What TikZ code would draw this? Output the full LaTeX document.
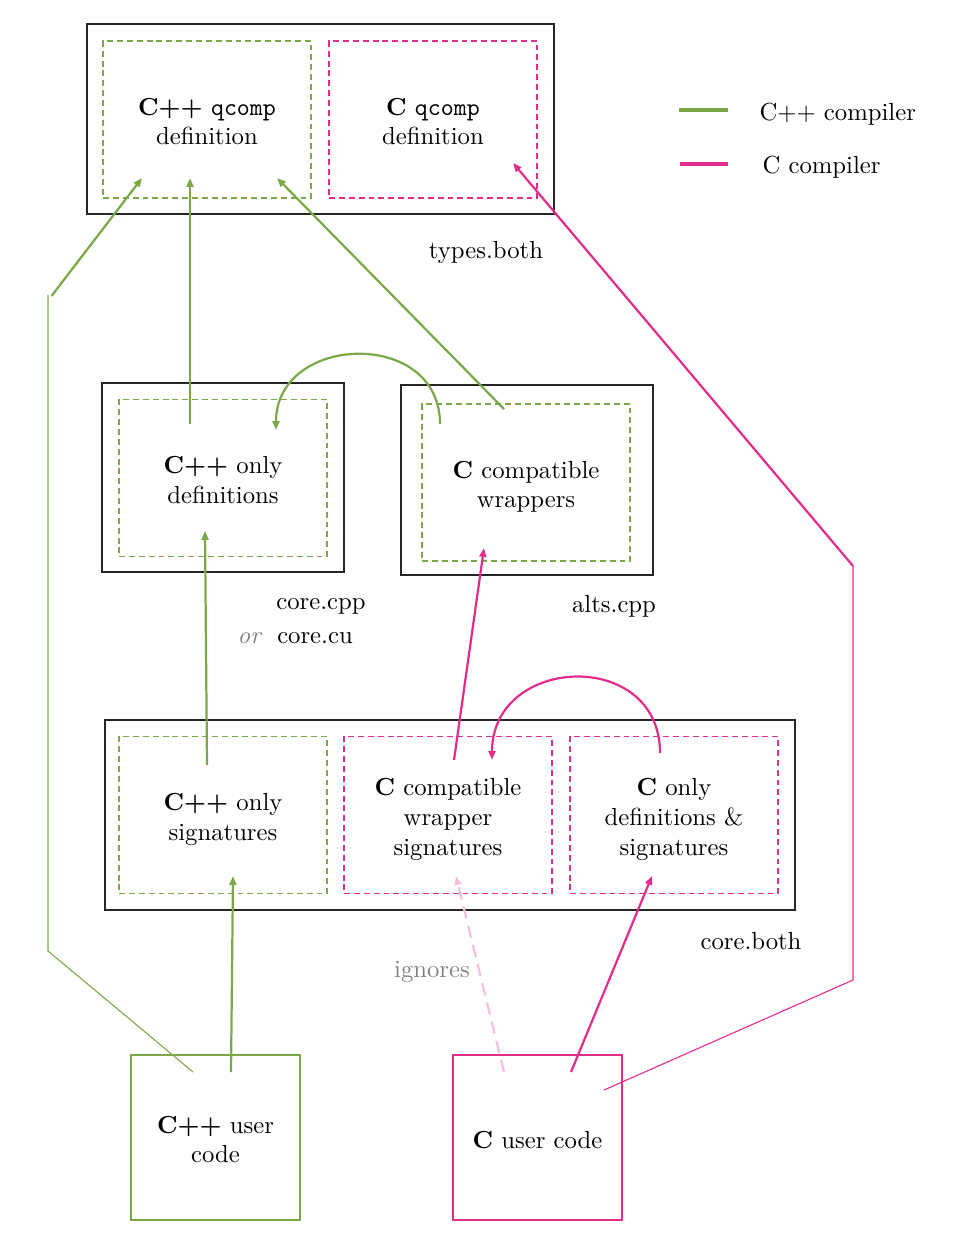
\documentclass[tikz,border=0pt]{standalone}
\usetikzlibrary{arrows.meta,calc}
\newlength\pxl \setlength\pxl{0.405pt}
\definecolor{cppgreen}{RGB}{124,168,74}
\definecolor{cpink}{RGB}{224,46,138}
\definecolor{lpink}{RGB}{246,192,220}
\begin{document}
\begin{tikzpicture}[x=0.405pt,y=-0.405pt,
  txt/.style={align=center,font=\fontsize{10}{12}\selectfont,text depth=0pt},
  tlab/.style={label={[txt,yshift=-0.8pt]center:{#1}}},
  outer/.style={draw=black!85,line width=0.6pt},
  gbox/.style={draw=cppgreen,line width=0.5pt,dash pattern=on 2.4pt off 1.6pt,minimum width=208\pxl,minimum height=157\pxl},
  pbox/.style={draw=cpink,line width=0.5pt,dash pattern=on 2.4pt off 1.6pt,minimum width=208\pxl,minimum height=157\pxl},
  ubox/.style={line width=0.45pt,minimum width=169\pxl,minimum height=165\pxl},
  tip/.style={-{Triangle[length=3.6pt,width=2.8pt]}},
  gar/.style={draw=cppgreen,line width=0.9pt,tip},
  par/.style={draw=cpink,line width=0.9pt,tip},
  gthin/.style={draw=cppgreen,line width=0.45pt},
  pthin/.style={draw=cpink,line width=0.45pt},
  lab/.style={inner sep=0pt,font=\fontsize{10}{12}\selectfont},
]
\useasboundingbox (0,0) rectangle (957,1245);

% outer boxes
\node[outer,minimum width=467\pxl,minimum height=190\pxl] (types) at (320.5,119) {};
\node[outer,minimum width=242\pxl,minimum height=189\pxl] (corecpp) at (223,477.5) {};
\node[outer,minimum width=252\pxl,minimum height=190\pxl] (alts) at (527,480) {};
\node[outer,minimum width=690\pxl,minimum height=190\pxl] (core) at (450,815) {};

% inner boxes
\node[gbox,tlab={\textbf{C++} \texttt{qcomp}\\definition}] (cppq) at (207,119.5) {};
\node[pbox,tlab={\textbf{C} \texttt{qcomp}\\definition}] (cq) at (433,119.5) {};
\node[gbox,tlab={\textbf{C++} only\\definitions}] (cppdef) at (223,478) {};
\node[gbox,tlab={\textbf{C} compatible\\wrappers}] (wrap) at (526,482.5) {};
\node[gbox,tlab={\textbf{C++} only\\signatures}] (cppsig) at (223,815) {};
\node[pbox,tlab={\textbf{C} compatible\\wrapper\\signatures}] (cwsig) at (448,815) {};
\node[pbox,tlab={\textbf{C} only\\definitions \&\\signatures}] (conly) at (674,815) {};

% user code
\node[ubox,draw=cppgreen,tlab={\textbf{C++} user\\code}] (cppuser) at (215.5,1137.5) {};
\node[ubox,draw=cpink,tlab={\textbf{C} user code}] (cuser) at (537.5,1137.5) {};

% labels
\node[lab] (ltypes) at (486,252) {types.both};
\node[lab] (lcorecpp) at (321,606) {core.cpp};
\node[lab,text=black!50] (lor) at (250,638) {\textit{or}};
\node[lab] (lcorecu) at (315,638) {core.cu};
\node[lab] (lalts) at (614,606) {alts.cpp};
\node[lab] (lcore) at (751,941) {core.both};
\node[lab,text=black!50] (lign) at (432,972) {ignores};

% legend
\coordinate (lg1) at (679,110);
\coordinate (lg2) at (728,110);
\coordinate (lp1) at (680,164);
\coordinate (lp2) at (728,164);
\draw[cppgreen,line width=1.4pt] (lg1) -- (lg2);
\draw[cpink,line width=1.4pt] (lp1) -- (lp2);
\node[lab,anchor=west] (lgt) at (759,114) {C++ compiler};
\node[lab,anchor=west] (lpt) at (762,167) {C compiler};

% routing coordinates
\coordinate (gb1) at (48,951);
\coordinate (gb2) at (48,295);
\coordinate (pb1) at (853,980);
\coordinate (pb2) at (853,566);

% green connectors
\draw[gthin] ($(cppuser.center)+(-22.5,-65.5)$) -- (gb1) -- (gb2);
\draw[gar] ($(gb2)+(3.5,1)$) -- ($(cppq.center)+(-65,58.5)$);
\draw[gar] ($(cppdef.center)+(-33,-54)$) -- ($(cppq.center)+(-17,58.5)$);
\draw[gar] ($(wrap.center)+(-22,-73.5)$) -- ($(cppq.center)+(70,58.5)$);
\draw[gar] ($(wrap.center)+(-86,-58.5)$) to[out=90,in=90,looseness=1.5] ($(cppdef.center)+(53,-48)$);
\draw[gar] ($(cppsig.center)+(-16,-50)$) -- ($(cppdef.center)+(-18,53)$);
\draw[gar] ($(cppuser.center)+(15.5,-65.5)$) -- ($(cppsig.center)+(10,61)$);

% pink connectors
\draw[par] ($(cwsig.center)+(6,-55)$) -- ($(wrap.center)+(-42,65.5)$);
\draw[par] ($(conly.center)+(-14,-62)$) to[out=90,in=90,looseness=1.6] ($(cwsig.center)+(44,-55)$);
\draw[par] ($(cuser.center)+(33.5,-65.5)$) -- ($(conly.center)+(-22,61)$);
\draw[draw=lpink,line width=0.9pt,dash pattern=on 5pt off 3pt,tip] ($(cuser.center)+(-33.5,-65.5)$) -- ($(cwsig.center)+(8,61)$);
\draw[pthin] ($(cuser.center)+(66.5,-47.5)$) -- (pb1) -- (pb2);
\draw[par] (pb2) -- ($(cq.center)+(80,43.5)$);
\end{tikzpicture}
\end{document}
